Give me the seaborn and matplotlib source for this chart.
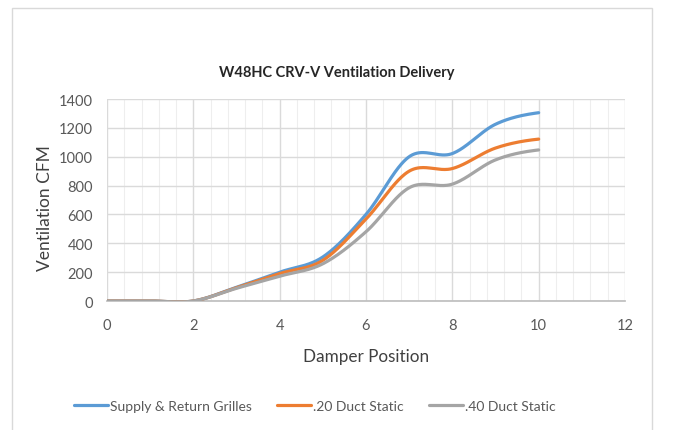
import numpy as np
import pandas as pd
import matplotlib
matplotlib.use("Agg")
import matplotlib.pyplot as plt
import seaborn as sns
from matplotlib.patches import Rectangle

# ---- data ----
damper = [0, 1, 2, 3, 4, 5, 6, 7, 8, 9, 10]
supply_return = [0, 0, 0, 95, 200, 305, 600, 1000, 1022, 1225, 1305]
duct_20 = [0, 0, 0, 92, 190, 282, 568, 900, 918, 1060, 1122]
duct_40 = [0, 0, 0, 88, 172, 258, 480, 785, 810, 978, 1047]
series_names = ["Supply & Return Grilles", ".20 Duct Static", ".40 Duct Static"]
colors = ["#5B9BD5", "#ED7D31", "#A5A5A5"]
x_ticks = [0, 2, 4, 6, 8, 10, 12]
y_ticks = [0, 200, 400, 600, 800, 1000, 1200, 1400]


def smooth(xs, ys, n=40):
    """Catmull-Rom style smoothing like Excel's smoothed line."""
    xs = np.asarray(xs, float)
    ys = np.asarray(ys, float)
    px = np.concatenate([[2 * xs[0] - xs[1]], xs, [2 * xs[-1] - xs[-2]]])
    py = np.concatenate([[ys[0]], ys, [ys[-1]]])
    outx, outy = [], []
    for i in range(1, len(px) - 2):
        p0, p1, p2, p3 = (np.array([px[j], py[j]]) for j in (i - 1, i, i + 1, i + 2))
        c1 = p1 + (p2 - p0) / 6
        c2 = p2 - (p3 - p1) / 6
        t = np.linspace(0, 1, n, endpoint=(i == len(px) - 3))[:, None]
        b = ((1 - t) ** 3) * p1 + 3 * ((1 - t) ** 2) * t * c1 + 3 * (1 - t) * t ** 2 * c2 + t ** 3 * p2
        outx.extend(b[:, 0])
        outy.extend(b[:, 1])
    return outx, outy


frames = []
for name, vals in zip(series_names, [supply_return, duct_20, duct_40]):
    sx, sy = smooth(damper, vals)
    frames.append(pd.DataFrame({"Damper Position": sx, "CFM": sy, "Series": name}))
df = pd.concat(frames, ignore_index=True)

sns.set_theme(style="white")
plt.rcParams["font.family"] = ["Lato", "DejaVu Sans"]

W, H = 673, 431
fig = plt.figure(figsize=(W / 100, H / 100), dpi=100)
fig.patch.set_facecolor("white")
fig.add_artist(Rectangle((12 / W, -0.05), (652 - 12) / W, 1.05 - 9 / H,
                         transform=fig.transFigure, fill=False,
                         edgecolor="#D9D9D9", linewidth=1.0))

ax = fig.add_axes([107 / W, 1 - 302 / H, (625 - 107) / W, (302 - 100) / H])
sns.lineplot(data=df, x="Damper Position", y="CFM", hue="Series",
             hue_order=series_names, palette=colors, sort=False,
             estimator=None, linewidth=2.3, ax=ax, legend=False, zorder=3)

ax.set_xlim(0, 12)
ax.set_ylim(0, 1400)
ax.set_xticks(x_ticks)
ax.set_yticks(y_ticks)
ax.set_xticks(np.arange(0, 12.01, 0.4), minor=True)
ax.grid(True, which="major", color="#DADADA", linewidth=1.0)
ax.grid(True, which="minor", axis="x", color="#EEEEEE", linewidth=0.8)
ax.tick_params(axis="both", which="both", length=0, labelsize=10.5, labelcolor="#595959")
ax.tick_params(axis="x", pad=12)
ax.tick_params(axis="y", pad=10)
for s in ["top", "right", "left"]:
    ax.spines[s].set_visible(False)
ax.spines["bottom"].set_color("#BFBFBF")
ax.set_axisbelow(True)

ax.set_xlabel("Damper Position", fontsize=12.3, color="#404040")
ax.xaxis.label.set_va("center")
ax.xaxis.set_label_coords(0.5, (302 - 357) / 202)
ax.set_ylabel("Ventilation CFM", fontsize=12.5, color="#404040")
ax.yaxis.label.set_va("center")
ax.yaxis.set_label_coords((45 - 107) / 518, (302 - 208) / 202)

fig.text(0.5, 1 - 73 / H, "W48HC CRV-V Ventilation Delivery", ha="center", va="center",
         fontsize=10.5, fontweight="bold", color="#262626")

handles = [plt.Line2D([], [], color=c, linewidth=2.3) for c in colors]
fig.legend(handles, series_names, loc="center", bbox_to_anchor=(315 / W, 1 - 407 / H),
           ncol=3, frameon=False, fontsize=10, handlelength=2.45, handletextpad=0.15,
           columnspacing=1.8, labelcolor="#595959")

fig.savefig("out.png", dpi=100)
